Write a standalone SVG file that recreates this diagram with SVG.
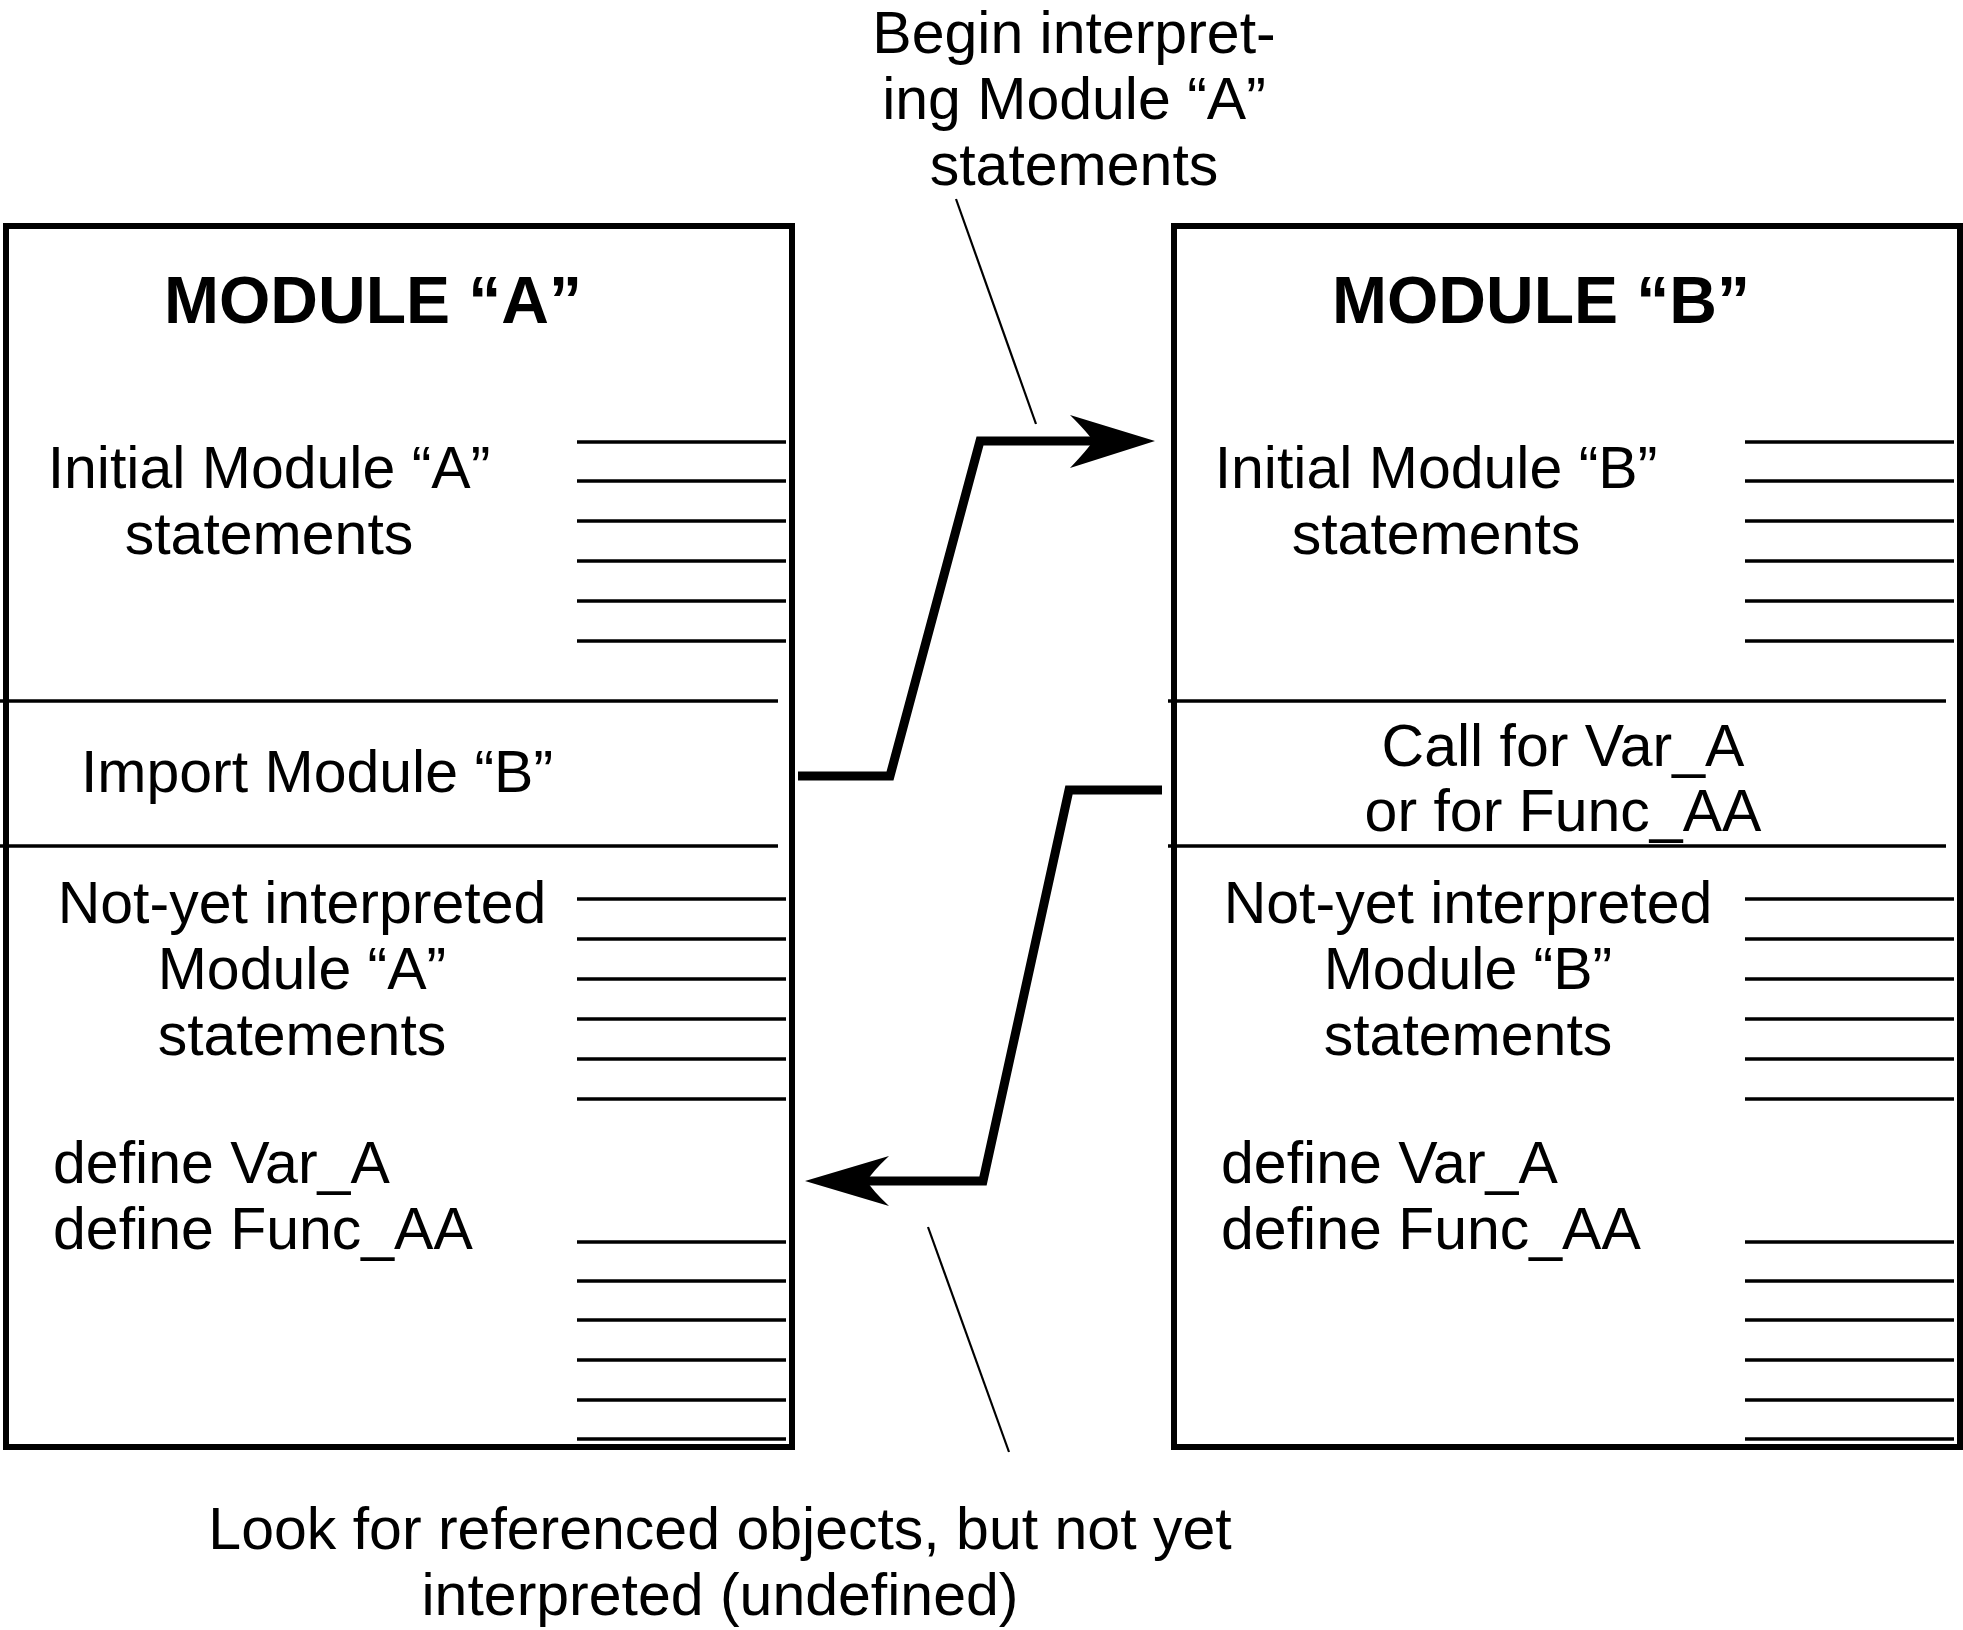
<svg xmlns="http://www.w3.org/2000/svg" width="1963" height="1630" viewBox="0 0 1963 1630">
<style>
.box{fill:none;stroke:#000;stroke-width:6}
.rule{stroke:#000;stroke-width:3.5}
.div{stroke:#000;stroke-width:3.5}
.t{font-family:"Liberation Sans",Arial,sans-serif;font-size:59px;fill:#000}
.c{text-anchor:middle}
.title{font-family:"Liberation Sans",Arial,sans-serif;font-size:66px;font-weight:bold;fill:#000;text-anchor:middle}
.conn{fill:none;stroke:#000;stroke-width:9;stroke-linejoin:miter}
.leader{fill:none;stroke:#000;stroke-width:2.2}
</style>
<defs>
<g id="rules">
<line class="rule" x1="577" y1="442" x2="786" y2="442"/>
<line class="rule" x1="577" y1="481" x2="786" y2="481"/>
<line class="rule" x1="577" y1="521" x2="786" y2="521"/>
<line class="rule" x1="577" y1="561" x2="786" y2="561"/>
<line class="rule" x1="577" y1="601" x2="786" y2="601"/>
<line class="rule" x1="577" y1="641" x2="786" y2="641"/>
<line class="div" x1="0" y1="701" x2="778" y2="701"/>
<line class="div" x1="0" y1="846" x2="778" y2="846"/>
<line class="rule" x1="577" y1="899" x2="786" y2="899"/>
<line class="rule" x1="577" y1="939" x2="786" y2="939"/>
<line class="rule" x1="577" y1="979" x2="786" y2="979"/>
<line class="rule" x1="577" y1="1019" x2="786" y2="1019"/>
<line class="rule" x1="577" y1="1059" x2="786" y2="1059"/>
<line class="rule" x1="577" y1="1099" x2="786" y2="1099"/>
<line class="rule" x1="577" y1="1242" x2="786" y2="1242"/>
<line class="rule" x1="577" y1="1281" x2="786" y2="1281"/>
<line class="rule" x1="577" y1="1320" x2="786" y2="1320"/>
<line class="rule" x1="577" y1="1360" x2="786" y2="1360"/>
<line class="rule" x1="577" y1="1400" x2="786" y2="1400"/>
<line class="rule" x1="577" y1="1439" x2="786" y2="1439"/>
</g>
</defs>
<rect width="1963" height="1630" fill="#fff"/>
<g id="moduleA">
<rect class="box" x="6" y="226" width="786" height="1221"/>
<use href="#rules"/>
<text class="title" x="373" y="323">MODULE “A”</text>
<text class="t c" x="269" y="488">Initial Module “A”</text>
<text class="t c" x="269" y="554">statements</text>
<text class="t c" x="317" y="792">Import Module “B”</text>
<text class="t c" x="302" y="923">Not-yet interpreted</text>
<text class="t c" x="302" y="989">Module “A”</text>
<text class="t c" x="302" y="1055">statements</text>
<text class="t" x="53" y="1183">define Var_A</text>
<text class="t" x="53" y="1249">define Func_AA</text>
</g>
<g id="moduleB">
<rect class="box" x="1174" y="226" width="786" height="1221"/>
<use href="#rules" transform="translate(1168,0)"/>
<text class="title" x="1541" y="323">MODULE “B”</text>
<text class="t c" x="1436" y="488">Initial Module “B”</text>
<text class="t c" x="1436" y="554">statements</text>
<text class="t c" x="1563" y="766">Call for Var_A</text>
<text class="t c" x="1563" y="831">or for Func_AA</text>
<text class="t c" x="1468" y="923">Not-yet interpreted</text>
<text class="t c" x="1468" y="989">Module “B”</text>
<text class="t c" x="1468" y="1055">statements</text>
<text class="t" x="1221" y="1183">define Var_A</text>
<text class="t" x="1221" y="1249">define Func_AA</text>
</g>
<g id="note-top">
<text class="t c" x="1074" y="53">Begin interpret-</text>
<text class="t c" x="1074" y="119">ing Module “A”</text>
<text class="t c" x="1074" y="185">statements</text>
</g>
<g id="note-bottom">
<text class="t c" x="720" y="1549">Look for referenced objects, but not yet</text>
<text class="t c" x="720" y="1615">interpreted (undefined)</text>
</g>
<g id="connectors">
<path class="conn" d="M798 776 L890 776 L980 441 L1095 441"/>
<path d="M1155 441 L1070 415 Q1088 433 1093 441 Q1088 449 1070 468 Z" fill="#000"/>
<path class="conn" d="M1162 790 L1069 790 L983 1181 L865 1181"/>
<path d="M805 1181 L889 1156 Q872 1172 867 1181 Q872 1190 889 1206 Z" fill="#000"/>
<line class="leader" x1="956" y1="199" x2="1036" y2="424"/>
<line class="leader" x1="928" y1="1227" x2="1009" y2="1452"/>
</g>
</svg>
